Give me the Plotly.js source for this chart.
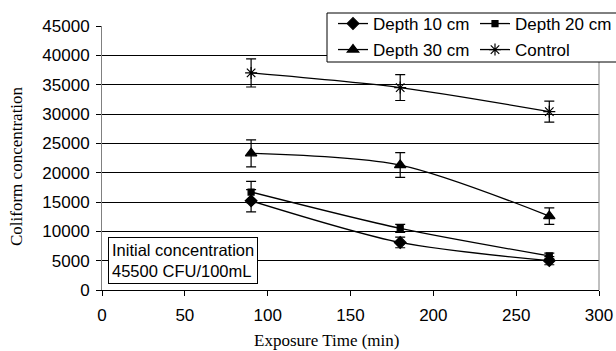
<!DOCTYPE html>
<html><head><meta charset="utf-8">
<script src="https://cdn.plot.ly/plotly-3.0.1.min.js"></script>
<style>html,body{margin:0;padding:0;background:#fff}#chart{width:616px;height:351px}</style>
</head><body><div id="chart"></div>
<script>
const times = [90, 180, 270];
const depth10 = [15200, 8100, 5000];
const depth10Err = [1900, 900, 700];
const depth20 = [16700, 10500, 5800];
const depth20Err = [1800, 700, 500];
const depth30 = [23300, 21300, 12600];
const depth30Err = [2300, 2100, 1400];
const control = [37000, 34500, 30400];
const controlErr = [2400, 2200, 1800];
const names = ['Depth 10 cm', 'Depth 20 cm', 'Depth 30 cm', 'Control'];
const xTicks = [0, 50, 100, 150, 200, 250, 300];
const yTicks = [0, 5000, 10000, 15000, 20000, 25000, 30000, 35000, 40000, 45000];
const symbols = ['diamond', 'square', 'triangle-up', 'asterisk-open'];
const sizes = [9, 6, 10, 10];
const series = [depth10, depth20, depth30, control];
const errs = [depth10Err, depth20Err, depth30Err, controlErr];
const legends = ['legend', 'legend', 'legend2', 'legend2'];

const traces = series.map((ys, i) => ({
  x: times, y: ys, name: names[i], type: 'scatter', mode: 'lines+markers',
  legend: legends[i],
  line: {color: '#000', width: 1.3, shape: 'spline', smoothing: 0.8},
  marker: {symbol: symbols[i], size: sizes[i], color: '#000', line: {color: '#000', width: 1.2}},
  error_y: {type: 'data', array: errs[i], visible: true, color: '#000', thickness: 1.2, width: 5}
}));

const L = 102, R = 599, T = 26, B = 290;
const px = v => (v - L) / (R - L);
const py = v => (B - v) / (B - T);
const sans = 'Liberation Sans, Arial, sans-serif';
const serif = 'Liberation Serif, Times New Roman, serif';
const legendFont = {family: sans, size: 17, color: '#000'};

const layout = {
  width: 616, height: 351,
  margin: {l: L, r: 616 - R, t: T, b: 351 - B, autoexpand: false},
  paper_bgcolor: '#fff', plot_bgcolor: '#fff',
  font: {family: sans, size: 17, color: '#000'},
  xaxis: {
    range: [0, 300], tickvals: xTicks, tickformat: 'd',
    ticks: 'outside', ticklen: 5, tickcolor: '#000', showgrid: false, zeroline: false,
    showline: true, linecolor: '#000', ticklabelstandoff: 5,
    tickfont: {family: sans, size: 17}
  },
  yaxis: {
    range: [0, 45000], tickvals: yTicks, tickformat: 'd',
    ticks: 'outside', ticklen: 5, tickcolor: '#000', showgrid: true, gridcolor: '#000', gridwidth: 1,
    zeroline: false, showline: true, linecolor: '#808080', ticklabelstandoff: 3,
    tickfont: {family: sans, size: 17}
  },
  shapes: [
    {type: 'line', xref: 'paper', yref: 'paper', x0: 1, x1: 1, y0: 0, y1: 1, line: {color: '#808080', width: 1}},
    {type: 'rect', xref: 'paper', yref: 'paper', x0: px(327), x1: px(640), y0: py(62), y1: py(13), line: {color: '#000', width: 1}, fillcolor: '#fff', layer: 'above'}
  ],
  legend: {orientation: 'h', x: px(333), y: py(24), xanchor: 'left', yanchor: 'middle', bgcolor: 'rgba(0,0,0,0)', borderwidth: 0,
    font: legendFont, entrywidth: 97, entrywidthmode: 'pixels', traceorder: 'normal'},
  legend2: {orientation: 'h', x: px(333), y: py(50), xanchor: 'left', yanchor: 'middle', bgcolor: 'rgba(0,0,0,0)', borderwidth: 0,
    font: legendFont, entrywidth: 97, entrywidthmode: 'pixels', traceorder: 'normal'},
  annotations: [
    {xref: 'paper', yref: 'paper', x: px(108), y: py(284), xanchor: 'left', yanchor: 'bottom',
     text: 'Initial concentration<br>45500 CFU/100mL', align: 'left', showarrow: false,
     font: {family: sans, size: 16.5, color: '#000'},
     bordercolor: '#000', borderwidth: 1, borderpad: 3, bgcolor: '#fff'},
    {xref: 'paper', yref: 'paper', x: px(326), y: py(340), xanchor: 'center', yanchor: 'middle',
     text: 'Exposure Time (min)', showarrow: false, font: {family: serif, size: 17, color: '#000'}},
    {xref: 'paper', yref: 'paper', x: px(16), y: py(166), xanchor: 'center', yanchor: 'middle', textangle: -90,
     text: 'Coliform concentration', showarrow: false, font: {family: serif, size: 17, color: '#000'}}
  ],
  showlegend: true
};
Plotly.newPlot('chart', traces, layout, {staticPlot: true});
</script></body></html>
